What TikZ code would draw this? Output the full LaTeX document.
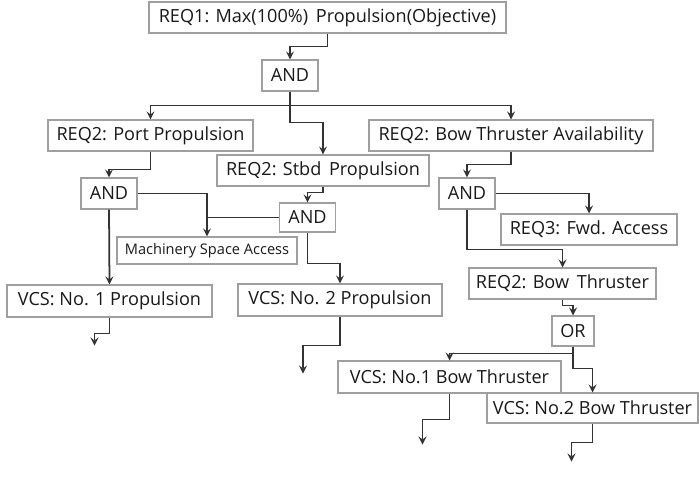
\documentclass[tikz,border=0pt]{standalone}
\usepackage{fontspec}
\setmainfont{Open Sans}
\usetikzlibrary{arrows}
\tikzstyle{req} = [rectangle, draw=gray!75, fill=white, line width=0.6pt, minimum height=0.62cm, inner sep=1pt, text centered, text=black!90, font=\fontsize{10.3}{12}\selectfont]
\tikzstyle{gate} = [req, minimum width=1.12cm]
\tikzstyle{small} = [req, minimum height=0.54cm, font=\fontsize{8.3}{10}\selectfont]
\tikzstyle{arrow} = [line width=1pt, draw=black!80, ->, >=stealth]
\tikzstyle{line} = [line width=1pt, draw=black!80]

\begin{document}
\begin{tikzpicture}
            \useasboundingbox (0,0) rectangle (13.98,-9.52);
            \node [req, minimum width=7.14cm] at (6.55,-0.35) (req1) {REQ1: Max(100\%)\, Propulsion(Objective)};
            \node [gate] at (5.80,-1.51) (and1) {AND};
            \node [req, minimum width=4.10cm] at (3.01,-2.71) (port) {REQ2: Port Propulsion};
            \node [req, minimum width=5.68cm] at (10.22,-2.71) (bow) {REQ2: Bow Thruster Availability};
            \node [req, minimum width=4.24cm] at (6.46,-3.41) (stbd) {REQ2: Stbd\, Propulsion};
            \node [gate] at (2.18,-3.87) (and2) {AND};
            \node [gate, minimum height=0.58cm] at (6.15,-4.35) (and3) {AND};
            \node [small, minimum width=3.60cm] at (4.14,-5.01) (mach) {Machinery Space Access};
            \node [req, minimum width=4.10cm, minimum height=0.64cm] at (2.19,-6.02) (vcs1) {VCS: No. 1 Propulsion};
            \node [req, minimum width=4.08cm, minimum height=0.64cm] at (6.80,-6.00) (vcs2) {VCS: No. 2 Propulsion};
            \node [gate] at (9.34,-3.87) (and4) {AND};
            \node [req, minimum width=3.52cm] at (11.78,-4.59) (fwd) {REQ3: Fwd. Access};
            \node [req, minimum width=3.74cm] at (11.25,-5.67) (bt) {REQ2: Bow\, Thruster};
            \node [gate, minimum width=0.84cm, minimum height=0.60cm] at (11.46,-6.62) (or) {OR};
            \node [req, minimum width=4.46cm, minimum height=0.64cm] at (8.99,-7.54) (vcsb1) {VCS: No.1 Bow Thruster};
            \node [req, minimum width=4.22cm, minimum height=0.60cm] at (11.85,-8.16) (vcsb2) {VCS: No.2 Bow Thruster};

            \draw [arrow] (req1.south) -- ++(0,-0.26) -| (and1.north);
            \draw [arrow] (and1.south) -- ++(0,-0.28) -| (port.north);
            \draw [arrow] (and1.south) -- ++(0,-0.28) -| (bow.north);
            \draw [arrow] (and1.south) -- ++(0,-0.62) -| (stbd.north);
            \draw [arrow] (port.south) -- ++(0,-0.36) -| (and2.north);
            \draw [arrow] (and2.east) -| (mach.north);
            \draw [line] (and3.west) -- (and3.west -| mach.north);
            \draw [arrow] (and2.south) -- (vcs1.north);
            \draw [arrow] (stbd.south) -- ++(0,-0.12) -| (and3.north);
            \draw [arrow] (and3.south) -- ++(0,-0.62) -| (vcs2.north);
            \draw [arrow] (bow.south) -- ++(0,-0.26) -| (and4.north);
            \draw [arrow] (and4.east) -| (fwd.north);
            \draw [arrow] (and4.south) -- ++(0,-0.80) -| (bt.north);
            \draw [arrow] (bt.south) -- ++(0,-0.12) -| (or.north);
            \draw [arrow] (or.south) -- ++(0,-0.14) -| (vcsb1.north);
            \draw [arrow] (or.south) -- ++(0,-0.44) -| (vcsb2.north);
            \draw [arrow] (vcs1.south) -- ++(0,-0.32) -- ++(-0.30,0) -- ++(0,-0.24);
            \draw [arrow] (vcs2.south) -- ++(0,-0.58) -- ++(-0.74,0) -- ++(0,-0.56);
            \draw [arrow] (vcsb1.south) -- ++(0,-0.52) -- ++(-0.54,0) -- ++(0,-0.50);
            \draw [arrow] (vcsb2.south) -- ++(0,-0.38) -- ++(-0.42,0) -- ++(0,-0.38);
            \end{tikzpicture}
\end{document}
